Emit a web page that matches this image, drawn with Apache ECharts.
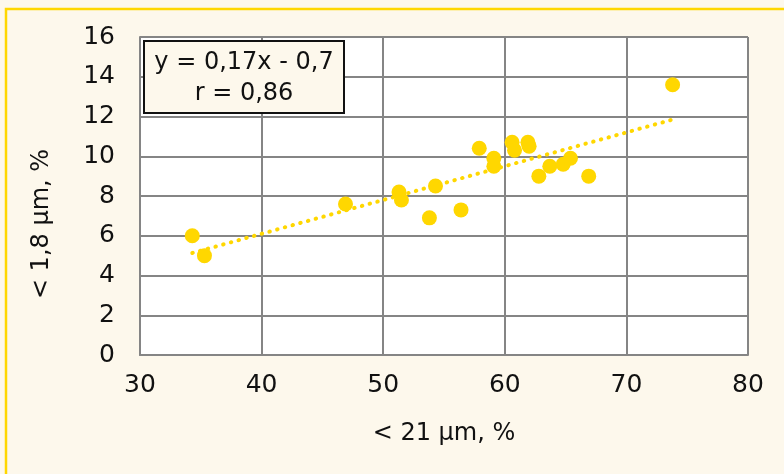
<!DOCTYPE html>
<html>
<head>
<meta charset="utf-8">
<script src="https://cdn.jsdelivr.net/npm/echarts@6/dist/echarts.min.js"></script>
<style>
  html, body { margin: 0; padding: 0; background: #FDF8EC; }
  #chart { width: 784px; height: 474px; }
</style>
</head>
<body>
<div id="chart"></div>
<script>
// Fine fraction (< 21 µm, %) against very fine fraction (< 1,8 µm, %)
const xValues = [34.3, 35.3, 46.9, 51.3, 51.5, 53.8, 54.3, 56.4, 57.9, 59.1, 59.1,
                 60.6, 60.8, 61.9, 62.0, 62.8, 63.7, 64.8, 65.4, 66.9, 73.8];
const yValues = [6.0, 5.0, 7.6, 8.2, 7.8, 6.9, 8.5, 7.3, 10.4, 9.9, 9.5,
                 10.7, 10.3, 10.7, 10.5, 9.0, 9.5, 9.6, 9.9, 9.0, 13.6];

// Linear fit as printed in the box: y = 0,17x - 0,7
const slope = 0.17;
const intercept = -0.7;
const rValue = 0.86;

const xTicks = [30, 40, 50, 60, 70, 80];
const yTicks = [0, 2, 4, 6, 8, 10, 12, 14, 16];

const xTitle = '< 21 µm, %';
const yTitle = '< 1,8 µm, %';

const fmt = v => String(v).replace('.', ',');
const eqLine1 = 'y = ' + fmt(slope) + 'x - ' + fmt(Math.abs(intercept));
const eqLine2 = 'r = ' + fmt(rValue);

const points = xValues.map((x, i) => [x, yValues[i]]);
const xMin = Math.min(...xValues);
const xMax = Math.max(...xValues);
const trend = [xMin, xMax].map(x => [x, slope * x + intercept]);

const FONT = 'DejaVu Sans';
const GOLD = '#FFD700';
const GRID = '#858585';
const INK = '#111111';

const chart = echarts.init(document.getElementById('chart'), null, { renderer: 'canvas' });
chart.setOption({
  backgroundColor: '#FDF8EC',
  animation: false,
  grid: { left: 140, right: 36, top: 37, bottom: 119, show: true, backgroundColor: '#ffffff', borderWidth: 0 },
  xAxis: {
    type: 'value',
    min: xTicks[0], max: xTicks[xTicks.length - 1], interval: 10,
    axisLine: { show: true, lineStyle: { color: GRID, width: 2 } },
    axisTick: { show: false },
    splitLine: { show: true, lineStyle: { color: GRID, width: 2 } },
    axisLabel: { fontFamily: FONT, fontSize: 25, color: INK, margin: 18 },
    name: xTitle,
    nameLocation: 'middle',
    nameGap: 67,
    nameTextStyle: { fontFamily: FONT, fontSize: 24, color: INK }
  },
  yAxis: {
    type: 'value',
    min: yTicks[0], max: yTicks[yTicks.length - 1], interval: 2,
    axisLine: { show: true, lineStyle: { color: GRID, width: 2 } },
    axisTick: { show: false },
    splitLine: { show: true, lineStyle: { color: GRID, width: 2 } },
    axisLabel: { fontFamily: FONT, fontSize: 25, color: INK, margin: 25 }
  },
  series: [
    {
      type: 'scatter',
      data: points,
      symbol: 'circle',
      symbolSize: 15,
      itemStyle: { color: GOLD, opacity: 1 },
      z: 2
    },
    {
      type: 'line',
      data: trend,
      showSymbol: false,
      symbol: 'none',
      lineStyle: { color: GOLD, width: 4, type: [0.5, 7.5], cap: 'round' },
      z: 3
    }
  ],
  graphic: [
    {
      type: 'polyline',
      shape: { points: [[6, 474], [6, 9], [784, 9]] },
      style: { stroke: GOLD, lineWidth: 2.5, fill: null },
      z: 10
    },
    {
      type: 'text',
      x: 42, y: 224,
      rotation: Math.PI / 2,
      style: { text: yTitle, font: '24px "' + FONT + '"', fill: INK, align: 'center', verticalAlign: 'middle' },
      z: 10
    },
    {
      type: 'rect',
      shape: { x: 144, y: 41, width: 200, height: 72 },
      style: { fill: '#FDF8EC', stroke: INK, lineWidth: 2 },
      z: 20
    },
    {
      type: 'text',
      x: 244, y: 63,
      style: { text: eqLine1, font: '24px "' + FONT + '"', fill: INK, align: 'center', verticalAlign: 'middle' },
      z: 21
    },
    {
      type: 'text',
      x: 244, y: 94,
      style: { text: eqLine2, font: '24px "' + FONT + '"', fill: INK, align: 'center', verticalAlign: 'middle' },
      z: 21
    }
  ]
});
</script>
</body>
</html>
